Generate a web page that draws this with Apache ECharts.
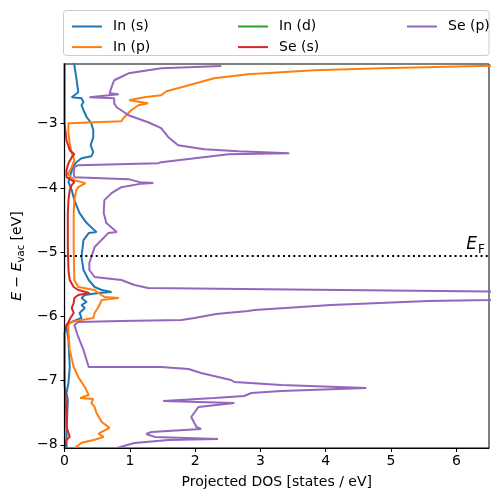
<!DOCTYPE html>
<html>
<head>
<meta charset="utf-8">
<script src="https://cdn.jsdelivr.net/npm/echarts@6/dist/echarts.min.js"></script>
<style>
html,body{margin:0;padding:0;background:#fff;}
#chart{width:498px;height:502px;}
</style>
</head>
<body>
<div id="chart"></div>
<script>
// ---- data: [DOS (states/eV), E - E_vac (eV)] ----
const seriesNames = ['In (s)', 'In (p)', 'In (d)', 'Se (s)', 'Se (p)'];
const seriesColors = ['#1f77b4', '#ff7f0e', '#2ca02c', '#d62728', '#9467bd'];

const inS = [[0.15,-2.05],[0.15,-2.09],[0.18,-2.277],[0.20,-2.432],[0.21,-2.510],[0.18,-2.526],[0.23,-2.541],[0.11,-2.588],[0.26,-2.603],[0.29,-2.666],[0.26,-2.712],[0.29,-2.790],[0.34,-2.899],[0.41,-2.992],[0.44,-3.101],[0.44,-3.210],[0.40,-3.334],[0.44,-3.443],[0.41,-3.505],[0.26,-3.537],[0.18,-3.599],[0.12,-3.692],[0.08,-3.832],[0.06,-3.910],[0.11,-4.034],[0.15,-4.190],[0.23,-4.392],[0.34,-4.547],[0.49,-4.688],[0.37,-4.703],[0.29,-4.812],[0.26,-5.076],[0.29,-5.278],[0.37,-5.434],[0.46,-5.543],[0.57,-5.589],[0.72,-5.620],[0.52,-5.636],[0.31,-5.667],[0.26,-5.714],[0.34,-5.776],[0.26,-5.823],[0.31,-5.869],[0.23,-5.947],[0.26,-6.025],[0.11,-6.087],[0.06,-6.118],[0.03,-6.165],[0.06,-6.367],[0.08,-6.788],[0.06,-7.037],[0.03,-7.193],[0.05,-7.302],[0.03,-7.815],[0.03,-8.06]];

const inP = [[6.8,-2.09],[4.85,-2.137],[3.82,-2.168],[2.81,-2.230],[2.29,-2.292],[1.79,-2.432],[1.56,-2.495],[1.48,-2.557],[1.22,-2.588],[0.99,-2.635],[1.28,-2.681],[1.13,-2.712],[1.02,-2.790],[0.90,-2.914],[0.87,-2.961],[0.06,-2.992],[0.03,-3.023],[0.06,-3.148],[0.08,-3.303],[0.11,-3.459],[0.15,-3.568],[0.11,-3.677],[0.05,-3.785],[0.15,-3.879],[0.32,-3.925],[0.21,-3.988],[0.18,-4.034],[0.15,-4.190],[0.14,-4.392],[0.14,-4.921],[0.15,-5.434],[0.21,-5.543],[0.46,-5.589],[0.52,-5.636],[0.61,-5.698],[0.83,-5.714],[0.57,-5.745],[0.52,-5.854],[0.46,-5.947],[0.44,-6.025],[0.26,-6.056],[0.11,-6.087],[0.06,-6.103],[0.06,-6.258],[0.08,-6.523],[0.14,-6.788],[0.21,-6.944],[0.31,-7.099],[0.37,-7.224],[0.24,-7.270],[0.44,-7.286],[0.41,-7.348],[0.46,-7.410],[0.49,-7.504],[0.57,-7.644],[0.69,-7.737],[0.57,-7.798],[0.52,-7.830],[0.60,-7.876],[0.46,-7.922],[0.26,-7.969],[0.15,-8.06]];

const inD = [[0.0,-2.05],[0.0,-3.0],[0.0,-4.0],[0.0,-5.0],[0.0,-6.0],[0.0,-7.0],[0.0,-8.06]];

const seS = [[0.0,-2.05],[0.0,-2.95],[0.00,-2.992],[0.03,-3.257],[0.08,-3.412],[0.15,-3.474],[0.11,-3.521],[0.06,-3.614],[0.03,-3.723],[0.03,-3.832],[0.11,-3.879],[0.15,-3.910],[0.11,-3.956],[0.08,-4.034],[0.06,-4.190],[0.05,-4.392],[0.05,-4.921],[0.06,-5.278],[0.08,-5.434],[0.14,-5.543],[0.21,-5.589],[0.38,-5.636],[0.21,-5.667],[0.15,-5.714],[0.14,-5.792],[0.11,-5.869],[0.14,-5.947],[0.09,-6.025],[0.06,-6.087],[0.03,-6.134],[0.00,-6.258],[0.00,-7.035],[0.02,-7.302],[0.03,-7.722],[0.08,-7.876],[0.03,-7.922],[0.00,-8.06]];

const seP = [[2.40,-2.10],[1.48,-2.137],[0.98,-2.215],[0.76,-2.323],[0.72,-2.432],[0.69,-2.526],[0.83,-2.541],[0.84,-2.572],[0.38,-2.588],[0.76,-2.603],[0.76,-2.681],[0.80,-2.743],[0.98,-2.868],[1.28,-2.977],[1.48,-3.070],[1.59,-3.210],[1.74,-3.334],[2.14,-3.397],[2.66,-3.428],[3.44,-3.459],[2.51,-3.474],[1.48,-3.599],[1.44,-3.614],[0.21,-3.645],[0.15,-3.677],[0.14,-3.770],[0.15,-3.832],[0.98,-3.863],[1.15,-3.910],[1.36,-3.925],[1.18,-3.933],[0.87,-3.988],[0.72,-4.081],[0.61,-4.190],[0.60,-4.392],[0.64,-4.547],[0.80,-4.688],[0.67,-4.703],[0.46,-4.921],[0.38,-5.170],[0.38,-5.278],[0.46,-5.387],[0.87,-5.434],[1.07,-5.512],[1.28,-5.558],[2.71,-5.574],[6.51,-5.613],[9.0,-5.667],[6.51,-5.745],[5.57,-5.760],[4.08,-5.823],[2.91,-5.900],[2.81,-5.916],[2.32,-5.963],[1.99,-6.025],[1.79,-6.056],[0.87,-6.072],[0.21,-6.087],[0.15,-6.134],[0.21,-6.321],[0.29,-6.523],[0.37,-6.788],[1.48,-6.788],[1.90,-6.819],[2.09,-6.882],[2.55,-6.991],[2.60,-7.022],[3.32,-7.068],[4.62,-7.115],[3.32,-7.162],[2.86,-7.193],[2.75,-7.240],[2.29,-7.271],[1.51,-7.318],[2.60,-7.349],[2.05,-7.411],[1.94,-7.567],[2.02,-7.722],[2.09,-7.753],[1.33,-7.800],[1.25,-7.831],[1.38,-7.877],[2.35,-7.909],[1.59,-7.924],[1.07,-7.971],[0.76,-8.06]];

const fermiLevel = -5.06;
const xMin = 0, xMax = 6.5;
const yMin = -8.05, yMax = -2.07;
const xTickValues = [0, 1, 2, 3, 4, 5, 6];
const yTickValues = [-8, -7, -6, -5, -4, -3];

const allData = [inS, inP, inD, seS, seP];
const FONT = 'DejaVu Sans';
const minus = v => String(v).replace('-', '\u2212');

const series = allData.map((d, i) => ({
  name: seriesNames[i],
  type: 'line',
  data: d,
  symbol: 'none',
  showSymbol: false,
  smooth: false,
  clip: true,
  animation: false,
  color: seriesColors[i],
  // In (d) lies on the axis spine (as in the reference, where it is hidden by clipping/spine)
  lineStyle: { color: seriesColors[i], width: i === 2 ? 0.8 : 2 },
  z: i === 2 ? 1 : 2
}));
series[4].markLine = {
  silent: true,
  symbol: ['none', 'none'],
  animation: false,
  lineStyle: { color: '#000', width: 2, type: [2, 3.2] },
  label: {
    show: true,
    position: 'insideEndTop',
    distance: [4, 2],
    formatter: '{e|E}{f|F}',
    rich: {
      e: { fontFamily: FONT, fontStyle: 'italic', fontSize: 17, color: '#000', lineHeight: 18 },
      f: { fontFamily: FONT, fontSize: 12, color: '#000', lineHeight: 12, padding: [9, 0, 0, 1] }
    }
  },
  data: [{ yAxis: fermiLevel }]
};

const legendCommon = {
  orient: 'vertical',
  top: 14.5,
  itemWidth: 30,
  itemHeight: 14,
  itemGap: 6.6,
  itemStyle: { opacity: 0 },
  lineStyle: { width: 2 },
  textStyle: { fontFamily: FONT, fontSize: 14, color: '#000', padding: [0, 0, 0, 6] },
  selectedMode: false
};

const option = {
  backgroundColor: '#fff',
  animation: false,
  grid: { left: 63, right: 9, top: 64, bottom: 54, show: true, borderColor: '#000', borderWidth: 1, backgroundColor: 'transparent' },
  legend: [
    Object.assign({}, legendCommon, { left: 66, data: [seriesNames[0], seriesNames[1]] }),
    Object.assign({}, legendCommon, { left: 232, data: [seriesNames[2], seriesNames[3]] }),
    Object.assign({}, legendCommon, { left: 401, data: [seriesNames[4]] })
  ],
  graphic: [{
    type: 'rect',
    shape: { x: 63.5, y: 10.5, width: 425.5, height: 45, r: 3 },
    style: { fill: 'rgba(255,255,255,0.8)', stroke: '#cccccc', lineWidth: 1 },
    z: -1
  }],
  xAxis: {
    type: 'value', min: xMin, max: xMax,
    z: 5,
    name: 'Projected DOS [states / eV]',
    nameLocation: 'middle', nameGap: 27,
    nameTextStyle: { fontFamily: FONT, fontSize: 14, color: '#000' },
    axisLine: { show: true, lineStyle: { color: '#000', width: 1 } },
    axisTick: { show: true, length: 4, lineStyle: { color: '#000' }, customValues: xTickValues },
    axisLabel: { fontFamily: FONT, fontSize: 14, color: '#000', margin: 6, customValues: xTickValues, formatter: minus },
    splitLine: { show: false }
  },
  yAxis: {
    type: 'value', min: yMin, max: yMax,
    z: 5,
    name: '{i|E} \u2212 {i|E}{s|vac} [eV]',
    nameLocation: 'middle', nameGap: 37, nameRotate: 90,
    nameTextStyle: {
      fontFamily: FONT, fontSize: 14, color: '#000',
      rich: {
        i: { fontFamily: FONT, fontStyle: 'italic', fontSize: 14, color: '#000', lineHeight: 16 },
        s: { fontFamily: FONT, fontSize: 10, color: '#000', lineHeight: 10, padding: [8, 0, 0, 0] }
      }
    },
    axisLine: { show: true, lineStyle: { color: '#000', width: 1.2 } },
    axisTick: { show: true, length: 4, lineStyle: { color: '#000' }, customValues: yTickValues },
    axisLabel: { fontFamily: FONT, fontSize: 14, color: '#000', margin: 7, customValues: yTickValues, formatter: minus },
    splitLine: { show: false }
  },
  series: series
};

const chart = echarts.init(document.getElementById('chart'), null, { renderer: 'canvas' });
chart.setOption(option);
</script>
</body>
</html>
